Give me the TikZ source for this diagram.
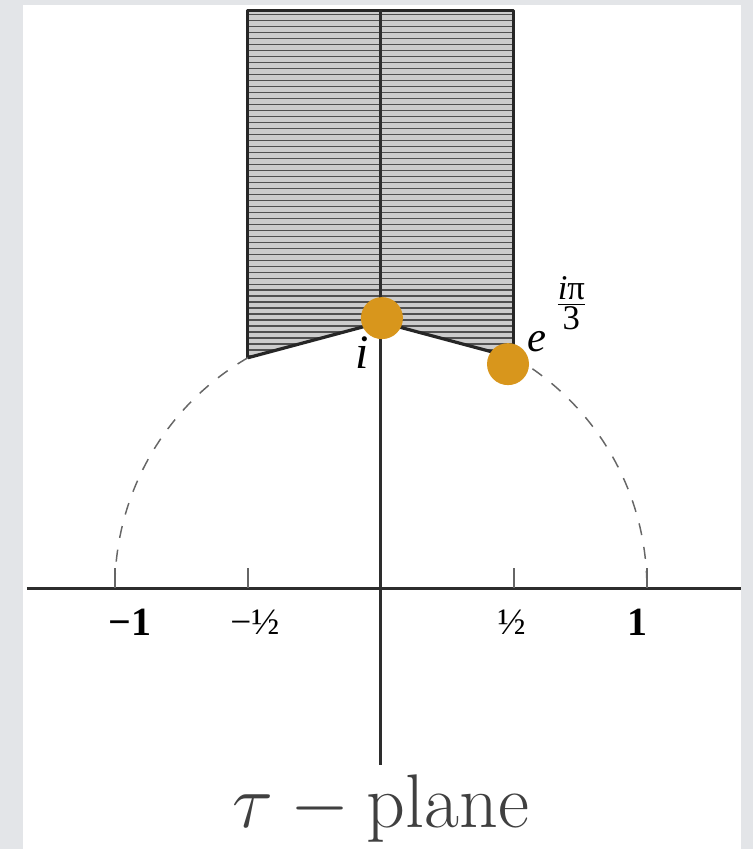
\documentclass[tikz,border=0pt]{standalone}
\usepackage{fix-cm}
\usepackage{amsmath}
\usepackage{fontspec}
\usepackage{tikz}
\newfontfamily\timesf{Liberation Serif}
\definecolor{bggray}{RGB}{227,229,232}
\definecolor{dotorange}{RGB}{216,150,28}
\definecolor{axisgray}{RGB}{45,45,45}
\definecolor{labelgray}{RGB}{64,64,64}
\definecolor{hatchgray}{RGB}{80,80,80}

\begin{document}
\begin{tikzpicture}[x=199.5pt,y=199.5pt,
  axisline/.style={axisgray,line width=2.2pt},
  bound/.style={black!85,line width=2.4pt,line join=round},
  arcdash/.style={black!60,line width=1.1pt,dash pattern=on 9pt off 9pt},
  tickmark/.style={black!60,line width=1.1pt},
  numlbl/.style={inner sep=0pt,font=\timesf\fontsize{28}{30}\selectfont},
  boldlbl/.style={inner sep=0pt,font=\timesf\bfseries\fontsize{30}{32}\selectfont},
  dot/.style={circle,fill=dotorange,inner sep=0pt,minimum size=31.5pt}]
\useasboundingbox (-1.432,-0.981) rectangle (1.398,2.211);
\fill[bggray] (-1.432,-0.981) rectangle (1.398,2.211);
\fill[white] (-1.346,-0.981) rectangle (1.353,2.192);
% fundamental domain, hatched
\begin{scope}
\clip (-0.5,2.173) -- (-0.5,0.866) -- (0,1) -- (0.5,0.866) -- (0.5,2.173) -- cycle;
\fill[gray!40] (-0.5,0.8) rectangle (0.5,2.2);
\foreach \k in {0,...,60}{\draw[hatchgray,line width=1pt] (-0.5,{0.85+0.0225*\k}) -- (0.5,{0.85+0.0225*\k});}
\end{scope}
\draw[bound] (-0.5,0.866) -- (-0.5,2.173) -- (0.5,2.173) -- (0.5,0.866);
\draw[bound] (-0.5,0.866) -- (0,1) -- (0.5,0.866);
% unit circle
\draw[arcdash] (1,0.02) arc[start angle=1,end angle=60,radius=1];
\draw[arcdash] (-0.5,0.866) arc[start angle=120,end angle=179,radius=1];
% axes
\draw[axisline] (-1.331,0) -- (1.353,0);
\draw[axisline] (0,-0.665) -- (0,2.173);
\foreach \x in {-1,-0.5,0.5,1}{\draw[tickmark] (\x,0) -- (\x,0.075);}
\node[boldlbl] (mone) at (-0.944,-0.128) {−1};
\node[numlbl] (mhalf) at (-0.474,-0.128) {−½};
\node[numlbl] (phalf) at (0.492,-0.128) {½};
\node[boldlbl] (pone) at (0.966,-0.128) {1};
\node[inner sep=0pt,font=\timesf\itshape\fontsize{36}{38}\selectfont] (ilbl) at (-0.071,0.885) {i};
\node[inner sep=0pt,font=\timesf\itshape\fontsize{32}{34}\selectfont] (elbl) at (0.586,0.925) {e};
\node[inner sep=0pt,font=\timesf\fontsize{26}{28}\selectfont] (expo) at (0.716,1.07) {$\frac{\textstyle\textit{i}\text{π}}{\textstyle\text{3}}$};
% special points
\node[dot] (idot) at (0.004,1.015) {};
\node[dot] (rhodot) at (0.478,0.842) {};
\node[labelgray,font=\fontsize{57}{60}\selectfont] (title) at (0,-0.83) {$\tau - \mathrm{plane}$};
\end{tikzpicture}
\end{document}
